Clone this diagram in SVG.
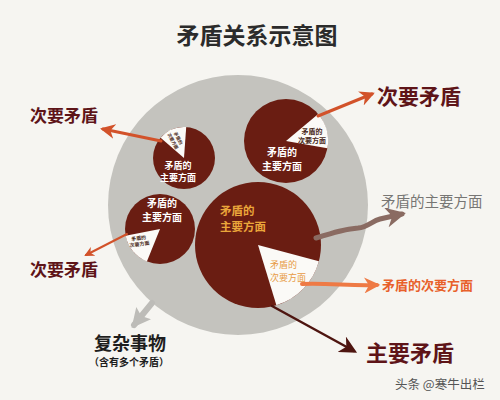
<svg xmlns="http://www.w3.org/2000/svg" width="500" height="400" viewBox="0 0 500 400">
<style>
text{font-family:"Noto Sans CJK SC",sans-serif;}
.b{font-weight:bold;}
.pie{fill:#6a1d12;}
.wedge{fill:#fbfaf7;}
.wt{fill:#ffffff;font-weight:bold;text-anchor:middle;}
.dt{fill:#4a2a20;font-weight:bold;text-anchor:middle;}
.red{fill:#5e1418;font-weight:bold;}
</style>
<defs>
<marker id="mOr" viewBox="0 0 10 10" refX="8" refY="5" markerWidth="5" markerHeight="5" orient="auto" markerUnits="strokeWidth"><path d="M0,0 L10,5 L0,10 L3,5 Z" fill="#d2522a"/></marker>
<marker id="mLo" viewBox="0 0 10 10" refX="8" refY="5" markerWidth="4" markerHeight="4" orient="auto" markerUnits="strokeWidth"><path d="M0,0 L10,5 L0,10 L3,5 Z" fill="#ee7a45"/></marker>
<marker id="mBr" viewBox="0 0 10 10" refX="8" refY="5" markerWidth="4" markerHeight="4" orient="auto" markerUnits="strokeWidth"><path d="M0,0 L10,5 L0,10 L3,5 Z" fill="#8a6b62"/></marker>
<marker id="mDk" viewBox="0 0 10 10" refX="8" refY="5" markerWidth="7" markerHeight="7" orient="auto" markerUnits="strokeWidth"><path d="M0,0 L10,5 L0,10 L3,5 Z" fill="#4e1510"/></marker>
<marker id="mGr" viewBox="0 0 10 10" refX="8" refY="5" markerWidth="3.2" markerHeight="3.2" orient="auto" markerUnits="strokeWidth"><path d="M0,0 L10,5 L0,10 L2,5 Z" fill="#bdbcb8"/></marker>
</defs>
<rect width="500" height="400" fill="#f6f5f1"/>
<text x="257" y="44" class="b" font-size="23" fill="#2b2b2b" text-anchor="middle">矛盾关系示意图</text>

<g id="complex">
<circle cx="238" cy="205" r="130" fill="#c4c3be"/>
<text x="130" y="350" class="b" font-size="18" fill="#1e1e1e" text-anchor="middle">复杂事物</text>
<text x="129" y="366" class="b" font-size="10" fill="#1e1e1e" text-anchor="middle">（含有多个矛盾）</text>
</g>

<g id="pie1">
<circle class="pie" cx="184" cy="158" r="31"/>
<path class="wedge" d="M184 158 L160.6 137.7 A31 31 0 0 1 186.2 127.1 Z"/>
<text class="wt" x="178" y="169" font-size="9">矛盾的</text>
<text class="wt" x="178" y="181" font-size="9">主要方面</text>
<g transform="translate(175,140) rotate(62)">
<text class="dt" x="0" y="-2" font-size="4.5">矛盾的</text>
<text class="dt" x="0" y="4" font-size="4.5">次要方面</text>
</g>
</g>

<g id="pie2">
<circle class="pie" cx="286" cy="141" r="42"/>
<path class="wedge" d="M286 141 L318.2 114 A42 42 0 0 1 327.4 148.3 Z"/>
<text class="dt" x="312" y="134" font-size="7">矛盾的</text>
<text class="dt" x="312" y="143" font-size="7">次要方面</text>
<text class="wt" x="282" y="156" font-size="10">矛盾的</text>
<text class="wt" x="282" y="170" font-size="10">主要方面</text>
</g>

<g id="pie3">
<circle class="pie" cx="160" cy="229" r="35"/>
<path class="wedge" d="M160 229 L146.9 261.5 A35 35 0 0 1 125.6 235.7 Z"/>
<text class="wt" x="162" y="207" font-size="10">矛盾的</text>
<text class="wt" x="162" y="221" font-size="10">主要方面</text>
<g transform="translate(139,241) rotate(-8)">
<text class="dt" x="0" y="-1" font-size="5">矛盾的</text>
<text class="dt" x="0" y="5" font-size="5">次要方面</text>
</g>
</g>

<g id="pie4">
<circle class="pie" cx="258" cy="245" r="63"/>
<path class="wedge" d="M258 245 L318.9 261.3 A63 63 0 0 1 276.4 305.2 Z"/>
<text x="220" y="215" font-size="11.5" fill="#eaa63a" font-weight="bold">矛盾的</text>
<text x="220" y="231" font-size="11.5" fill="#eaa63a" font-weight="bold">主要方面</text>
<text x="270" y="268" font-size="9" fill="#e79a45">矛盾的</text>
<text x="270" y="281" font-size="9" fill="#e79a45">次要方面</text>
</g>

<g id="labels">
<text x="30" y="122" class="red" font-size="17">次要矛盾</text>
<text x="30" y="276" class="red" font-size="17">次要矛盾</text>
<text x="377" y="104" class="red" font-size="21">次要矛盾</text>
<text x="366" y="361" class="red" font-size="22">主要矛盾</text>
<text x="381" y="207" font-size="14.5" fill="#777674">矛盾的主要方面</text>
<text x="382" y="290" font-size="13" fill="#e8602a" font-weight="bold">矛盾的次要方面</text>
<text x="395" y="389" font-size="12.5" fill="#555555">头条 @寒牛出栏</text>
</g>

<g id="connectors" fill="none" stroke-linecap="round">
<line x1="161" y1="141" x2="103" y2="129" stroke="#d2522a" stroke-width="3" marker-end="url(#mOr)"/>
<line x1="127" y1="234" x2="86" y2="255" stroke="#d2522a" stroke-width="2" marker-end="url(#mOr)"/>
<line x1="318" y1="116" x2="372" y2="94" stroke="#d2522a" stroke-width="3" marker-end="url(#mOr)"/>
<path d="M316 238 C335 232 345 229 358 228 C368 227 372 221 380 219 L402 214" stroke="#8a6b62" stroke-width="5" marker-end="url(#mBr)"/>
<path d="M302 284 C330 283 350 286 377 285" stroke="#ee7a45" stroke-width="4" marker-end="url(#mLo)"/>
<line x1="272" y1="306" x2="354" y2="351" stroke="#4e1510" stroke-width="2.5" marker-end="url(#mDk)"/>
<line x1="152" y1="303" x2="134" y2="325" stroke="#bdbcb8" stroke-width="6" marker-end="url(#mGr)"/>
</g>
</svg>
